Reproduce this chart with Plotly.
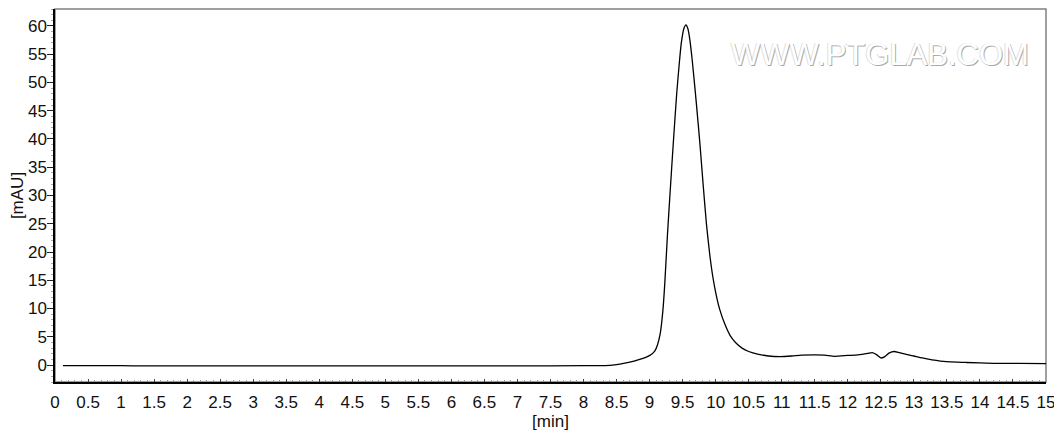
import plotly.graph_objects as go

# retention time [min] and detector signal [mAU]
time_min = [0.12, 0.5, 1.0, 1.35, 2, 3, 4, 5, 6, 7, 8, 8.4, 8.55, 8.7, 8.85, 8.95,
            9.03, 9.08, 9.12, 9.16, 9.2, 9.23, 9.27, 9.31, 9.36, 9.41, 9.45, 9.48,
            9.52, 9.55, 9.58, 9.61, 9.64, 9.67, 9.71, 9.76, 9.81, 9.86, 9.91, 9.96,
            10.01, 10.06, 10.14, 10.22, 10.3, 10.4, 10.5, 10.65, 10.8, 10.97, 11.15,
            11.3, 11.5, 11.65, 11.8, 12.0, 12.15, 12.3, 12.37, 12.44, 12.5, 12.56,
            12.63, 12.7, 12.78, 12.9, 13.0, 13.2, 13.45, 13.8, 14.2, 14.6, 15.0]
signal_mau = [-0.1, -0.1, -0.12, -0.15, -0.15, -0.15, -0.15, -0.15, -0.15, -0.15, -0.12,
              -0.05, 0.15, 0.5, 1.0, 1.4, 1.9, 2.5, 3.6, 5.5, 9.5, 14.5, 23, 30.5, 39.5,
              48, 53.5, 57, 59.6, 60.2, 59.5, 57.5, 54.5, 51, 46, 39.4, 32, 25, 19.6,
              15.4, 12.3, 9.9, 7.2, 5.2, 4.0, 3.0, 2.4, 1.9, 1.6, 1.5, 1.6, 1.75, 1.8,
              1.75, 1.55, 1.7, 1.8, 2.05, 2.2, 1.8, 1.25, 1.5, 2.15, 2.4, 2.2, 1.85, 1.6,
              1.1, 0.65, 0.45, 0.3, 0.3, 0.25]

x_ticks = [i * 0.5 for i in range(31)]
x_labels = [f'{v:g}' for v in x_ticks]

font = 'Liberation Sans, Arial, sans-serif'

fig = go.Figure()
fig.add_trace(go.Scatter(x=time_min, y=signal_mau, mode='lines',
                         line=dict(color='black', width=1.3, shape='spline', smoothing=0.5),
                         showlegend=False, hoverinfo='x+y'))

# grey frame on top/right, black axes left/bottom
fig.add_shape(type='rect', xref='paper', yref='paper', x0=0, y0=0, x1=1, y1=1,
              line=dict(color='#808080', width=1.5), layer='below')

fig.add_annotation(text='WWW.PTGLAB.COM', xref='paper', yref='paper', x=0.8325, y=0.877,
                   xanchor='center', yanchor='middle', showarrow=False,
                   font=dict(family=font, size=31, color='#ffffff',
                             shadow='1px 1px 0px #aaaaaa, -1px 0px 0px #e0e0e0'))

# page body has an 8px margin, so the figure is a bit smaller than the window
fig.update_layout(
    width=1054, height=426,
    margin=dict(l=47, r=16, t=1, b=52),
    paper_bgcolor='white', plot_bgcolor='white',
    font=dict(family=font, size=17, color='#111111'),
    xaxis=dict(range=[0, 15], tickvals=x_ticks, ticktext=x_labels,
               showline=True, linecolor='black', linewidth=1.5,
               ticks='inside', ticklen=3, tickcolor='#444444',
               minor=dict(dtick=0.1, ticks='inside', ticklen=2, tickcolor='#999999'),
               showgrid=False, zeroline=False, automargin=False,
               ticklabelstandoff=4,
               title=dict(text='[min]', font=dict(size=17), standoff=0)),
    yaxis=dict(range=[-3, 63], dtick=5, tick0=0,
               showline=True, linecolor='black', linewidth=1.5,
               ticks='outside', ticklen=6, tickcolor='#222222',
               minor=dict(dtick=1, ticks='outside', ticklen=2, tickcolor='#aaaaaa'),
               showgrid=False, zeroline=False, automargin=False,
               ticklabelstandoff=-3,
               title=dict(text='[mAU]', font=dict(size=17), standoff=4)),
)

fig.write_html('out.html')
